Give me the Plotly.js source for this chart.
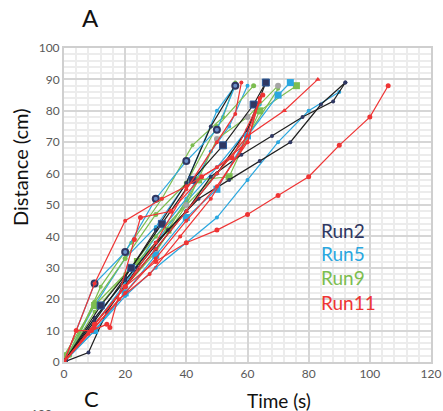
<!DOCTYPE html>
<html>
<head>
<meta charset="utf-8">
<script src="https://cdn.plot.ly/plotly-3.0.1.min.js"></script>
<style>html,body{margin:0;padding:0;background:#fff;}#chart{width:443px;height:411px;}</style>
</head>
<body>
<div id="chart"></div>
<script>
// Time (s) / Distance (cm) for each traced run line
const redLongT = [0,10,20,30,40,50,60,70,80,90,100,106];
const redLongD = [0,12,24,32,38,42,47,53,59,69,78,88];
const blueLongT = [0,10,20,30,40,50,60,70,80,90];
const blueLongD = [0,10,21,30,38,46,58,70,80,86];
const black1T = [0,8,14,24,34,44,54,64,74,84,92];
const black1D = [0,3,16,30,42,52,58,64,70,82,89];
const black2T = [0,10,20,30,40,48,58,68,78,88,92];
const black2D = [0,14,26,38,48,59,66,72,78,83,89];
const redTriT = [0,10,20,30,40,50,60,72,83];
const redTriD = [0,12,24,36,48,60,72,80,90];
const blueSqT = [0,10,20,30,40,50,60,70,74];
const blueSqD = [0,10,22,34,46,55,72,85,89];
const greenSqT = [0,10,24,34,44,54,64,76];
const greenSqD = [2,18,32,42,58,59,80,88];
const navySqT = [0,12,22,32,42,52,62,66];
const navySqD = [0,18,30,44,58,69,82,89];
const navyCirT = [0,10,20,30,40,50,56];
const navyCirD = [0,25,35,52,64,74,88];
const grayT = [0,10,20,30,40,50,60,70];
const grayD = [0,12,24,35,50,71,78,88];
const green1T = [0,2,12,22,32,42,52,56];
const green1D = [0,2,24,38,52,69,78,89];
const blue1T = [0,10,20,30,40,50,56];
const blue1D = [0,18,33,43,57,80,88];
const green2T = [0,10,20,30,40,50,62];
const green2D = [0,19,33,47,57,75,88];
const red1T = [0,10,20,30,40,50,56,58];
const red1D = [0,12,24,38,55,70,79,89];
const red2T = [0,4,9,14,15,23,25,35,45,55,65];
const red2D = [0,10,10,12,11,39,46,48,59,65,85];
const red3T = [0,10,20,32,40,50,60,64];
const red3D = [0,25,45,52,56,62,70,84];
const blue2T = [0,10,20,30,40,48,54,60];
const blue2D = [0,12,25,40,52,67,75,88];
const green3T = [0,10,20,30,40,50,60,70];
const green3D = [0,16,28,40,50,60,72,87];
const red4T = [0,10,20,30,40,50,60,64];
const red4D = [0,11,22,33,45,56,70,84];
const red5T = [0,8,18,28,38,48,58,64];
const red5D = [0,9,20,28,40,52,68,83];
const black3T = [0,10,20,30,40,50,60,66];
const black3D = [0,12,24,36,48,60,74,89];
const blue3T = [0,10,20,30,40,50,60,64];
const blue3D = [0,14,26,38,51,62,74,82];
const black4T = [0,10,20,30,40,48,56];
const black4D = [0,13,27,42,57,75,88];

const legendNames = ['Run2','Run5','Run9','Run11'];
const C = {black:'#1e1e1e', navy:'#2f3762', blue:'#2aa7df', green:'#7cbd4f', red:'#ef3434', gray:'#a5a5a5'};

function tr(x, y, color, mcolor, symbol, msize, mline) {
  return {x:x, y:y, type:'scatter', mode:'lines+markers', showlegend:false, hoverinfo:'skip',
    line:{color:color, width:1.2},
    marker:{color:mcolor, symbol:symbol, size:msize, line:mline || {width:0}}};
}
const data = [
  tr(blueLongT, blueLongD, C.blue, C.blue, 'circle', 4),
  tr(blue2T, blue2D, C.blue, C.blue, 'circle', 4),
  tr(blue3T, blue3D, C.blue, C.blue, 'circle', 4),
  tr(blue1T, blue1D, C.blue, C.blue, 'circle', 4),
  tr(green3T, green3D, C.green, C.green, 'circle', 4),
  tr(green1T, green1D, C.green, C.green, 'circle', 4),
  tr(green2T, green2D, C.green, C.green, 'circle', 5),
  tr(greenSqT, greenSqD, C.green, C.green, 'square', 7),
  tr(grayT, grayD, C.green, C.gray, 'circle', 6),
  tr(black1T, black1D, C.black, C.navy, 'circle', 4),
  tr(black2T, black2D, C.black, C.navy, 'circle', 4),
  tr(black3T, black3D, C.black, C.navy, 'circle', 4),
  tr(black4T, black4D, C.black, C.navy, 'circle', 4),
  tr(blueSqT, blueSqD, C.blue, C.blue, 'square', 7),
  tr(navySqT, navySqD, C.black, C.navy, 'square', 7, {color:'#2a5a9a', width:1}),
  tr(navyCirT, navyCirD, C.blue, '#6b8fc8', 'circle', 6, {color:C.navy, width:2}),
  tr(redLongT, redLongD, C.red, C.red, 'circle', 5),
  tr(redTriT, redTriD, C.red, C.red, 'triangle-up', 5),
  tr(red1T, red1D, C.red, C.red, 'circle', 4),
  tr(red2T, red2D, C.red, C.red, 'circle', 5),
  tr(red3T, red3D, C.red, C.red, 'circle', 4),
  tr(red4T, red4D, C.red, C.red, 'circle', 4),
  tr(red5T, red5D, C.red, C.red, 'circle', 4)
];

const legendColors = [C.navy, C.blue, C.green, C.red];
const legendY = [0.42, 0.344, 0.268, 0.188];
const ann = legendNames.map((n,i) => ({text:n, xref:'paper', yref:'paper', x:0.695, y:legendY[i],
  xanchor:'left', yanchor:'middle', showarrow:false, font:{family:'Lato, sans-serif', size:19, color:legendColors[i]}}));
ann.push({text:'Distance (cm)', xref:'paper', yref:'paper', x:-0.12, y:0.621, textangle:-90,
  xanchor:'center', yanchor:'middle', showarrow:false, font:{family:'Lato, sans-serif', size:20, color:'#111'}});
ann.push({text:'Time (s)', xref:'paper', yref:'paper', x:0.586, y:-0.124,
  xanchor:'center', yanchor:'middle', showarrow:false, font:{family:'Lato, sans-serif', size:19, color:'#111'}});
ann.push({text:'A', xref:'paper', yref:'paper', x:0.071, y:1.096,
  xanchor:'center', yanchor:'middle', showarrow:false, font:{family:'Lato, sans-serif', size:24, color:'#111'}});
ann.push({text:'C', xref:'paper', yref:'paper', x:0.074, y:-0.115,
  xanchor:'center', yanchor:'middle', showarrow:false, font:{family:'Lato, sans-serif', size:22, color:'#111'}});
ann.push({text:'100', xref:'paper', yref:'paper', x:-0.06, y:-0.165,
  xanchor:'center', yanchor:'middle', showarrow:false, font:{family:'Lato, sans-serif', size:12, color:'#595959'}});

const layout = {
  width:443, height:411,
  margin:{l:64, r:12, t:48, b:49},
  paper_bgcolor:'#fff', plot_bgcolor:'#fff',
  showlegend:false,
  xaxis:{range:[0,120], dtick:20, tick0:0, showgrid:true, gridcolor:'#d6d6d6', gridwidth:2,
    minor:{dtick:4, showgrid:true, gridcolor:'#ececec', gridwidth:2},
    showline:true, mirror:true, linecolor:'#cfcfcf', linewidth:2, zeroline:false, ticks:'',
    tickfont:{family:'Lato, sans-serif', size:12, color:'#595959'}, fixedrange:true},
  yaxis:{range:[0,100], dtick:10, tick0:0, showgrid:true, gridcolor:'#d6d6d6', gridwidth:2,
    minor:{dtick:2, showgrid:true, gridcolor:'#ececec', gridwidth:2},
    showline:true, mirror:true, linecolor:'#cfcfcf', linewidth:2, zeroline:false, ticks:'',
    tickfont:{family:'Lato, sans-serif', size:12, color:'#595959'}, fixedrange:true},
  annotations:ann
};
Plotly.newPlot('chart', data, layout, {staticPlot:true, displayModeBar:false});
</script>
</body>
</html>
